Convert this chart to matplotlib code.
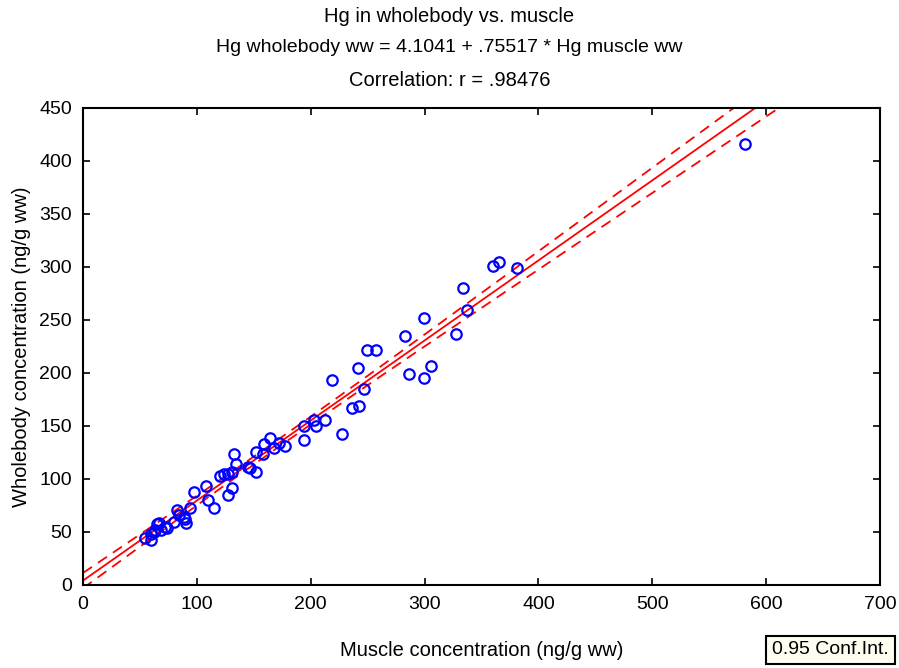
import numpy as np
import matplotlib
matplotlib.use("Agg")
from matplotlib import pyplot as plt

plt.rcParams["font.family"] = ["Liberation Sans", "DejaVu Sans"]

# Hg in muscle and wholebody (ng/g ww)
muscle = [
    54.9, 60.0, 59.5, 62.0, 64.8, 67.0, 63.5, 68.4, 72.0, 74.2,
    80.0, 83.0, 84.5, 88.3, 90.5, 90.0, 93.6, 97.2, 108.0, 109.7,
    115.0, 120.3, 123.5, 127.0, 131.0, 127.0, 131.2, 132.5, 134.3, 145.0,
    146.5, 152.0, 151.7, 157.8, 158.8, 164.0, 168.2, 172.2, 177.0, 194.0,
    194.0, 203.0, 205.0, 212.2, 219.0, 227.8, 236.6, 242.0, 241.9, 246.9,
    249.0, 257.7, 282.7, 285.9, 299.6, 299.6, 305.5, 328.0, 333.4, 337.0,
    359.8, 365.3, 380.8, 581.0,
]
wholebody = [
    44.5, 42.0, 48.5, 50.0, 57.5, 58.8, 52.0, 52.0, 55.0, 53.5,
    59.2, 71.0, 65.7, 63.9, 58.8, 62.5, 72.5, 88.0, 93.5, 80.2,
    73.0, 102.8, 104.7, 105.0, 107.0, 84.5, 91.5, 124.0, 114.3, 111.6,
    110.0, 106.5, 125.5, 123.3, 133.0, 139.0, 129.3, 133.5, 131.0, 150.0,
    136.8, 155.7, 150.2, 155.7, 193.4, 142.6, 167.2, 169.0, 204.6, 184.5,
    221.7, 221.7, 235.0, 199.3, 252.3, 195.5, 206.8, 237.0, 280.0, 259.5,
    301.0, 304.8, 299.0, 416.0,
]

intercept = 4.1041
slope = 0.75517
r_value = 0.98476
conf_level = 0.95

x = np.array(muscle)
y = np.array(wholebody)
n = len(x)

# regression line and 95% confidence band for the mean
xs = np.linspace(0, 700, 400)
fit = intercept + slope * xs
resid = y - (intercept + slope * x)
s = np.sqrt(np.sum(resid ** 2) / (n - 2))
sxx = np.sum((x - x.mean()) ** 2)
t_crit = 1.999
half = t_crit * s * np.sqrt(1.0 / n + (xs - x.mean()) ** 2 / sxx)

fig = plt.figure(figsize=(8.99, 6.68), dpi=100)
ax = fig.add_axes([0.0923, 0.1243, 0.8866, 0.7141])

ax.plot(xs, fit, c="red", lw=1.3)
ax.plot(xs, fit + half, c="red", lw=1.3, ls=(0, (6, 4)))
ax.plot(xs, fit - half, c="red", lw=1.3, ls=(0, (6, 4)))
ax.plot(x, y, ls="none", marker="o", ms=7.5, mfc="none", mec="blue", mew=1.6)

ax.set_xlim(0, 700)
ax.set_ylim(0, 450)
ax.set_xticks(np.arange(0, 701, 100))
ax.set_yticks(np.arange(0, 451, 50))
ax.tick_params(direction="in", length=5, width=1.2, labelsize=14,
               top=True, right=True, pad=8, colors="black")
for sp in ax.spines.values():
    sp.set_linewidth(1.5)

ax.set_xlabel("Muscle concentration (ng/g ww)", fontsize=14.5, labelpad=20)
ax.set_ylabel("Wholebody concentration (ng/g ww)", fontsize=14.5, labelpad=6)

fig.text(0.5, 1 - 17 / 668, "Hg in wholebody vs. muscle",
         ha="center", va="center", fontsize=14.5)
fig.text(0.5, 1 - 48 / 668,
         f"Hg wholebody ww = {intercept:.4f} + {slope:.5f} * Hg muscle ww".replace(" 0.", " ."),
         ha="center", va="center", fontsize=14)
fig.text(0.5, 1 - 81 / 668, f"Correlation: r = {r_value:.5f}".replace("= 0.", "= ."),
         ha="center", va="center", fontsize=14.5)

fig.text(772 / 899, 1 - 650 / 668, f"{conf_level:.2f} Conf.Int.", ha="left", va="center",
         fontsize=14,
         bbox=dict(boxstyle="square,pad=0.3", fc="#fffdf0", ec="black", lw=1.5))

fig.savefig("out.png", dpi=100)
plt.close()
